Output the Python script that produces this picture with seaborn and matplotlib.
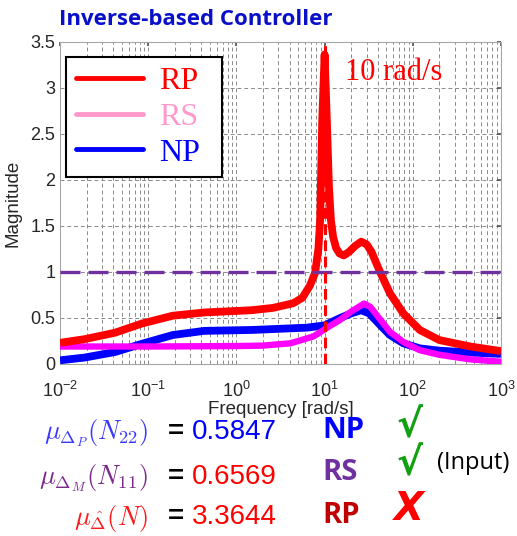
import numpy as np
import pandas as pd
import matplotlib
matplotlib.use("Agg")
import matplotlib.pyplot as plt
from matplotlib.lines import Line2D
from matplotlib.ticker import LogLocator, FixedLocator, NullFormatter
import seaborn as sns

# ---- structured singular value curves vs frequency ----
rp_freq = [0.01, 0.019, 0.042, 0.085, 0.19, 0.43, 1.5, 2.6, 4.4, 5.6, 6.8, 7.8, 8.5,
           8.9, 9.4, 10.0, 10.6, 11.2, 11.8, 12.5, 13.5, 14.8, 16.5, 19.0, 22.0, 26.0,
           30.0, 34.0, 38.0, 43.0, 55.0, 78.0, 120.0, 200.0, 450.0, 1000.0]
rp_mag = [0.23, 0.27, 0.34, 0.44, 0.525, 0.56, 0.585, 0.61, 0.66, 0.72, 0.85, 0.99, 1.25,
          1.56, 2.65, 3.3644, 2.65, 1.93, 1.56, 1.38, 1.26, 1.2, 1.18, 1.22, 1.28, 1.33,
          1.3, 1.22, 1.11, 0.99, 0.77, 0.55, 0.37, 0.26, 0.19, 0.14]

np_freq = [0.01, 0.019, 0.042, 0.085, 0.19, 0.43, 1.5, 6.3, 10.0, 15.0, 20.0, 26.0,
           32.0, 43.0, 55.0, 78.0, 120.0, 200.0, 450.0, 1000.0]
np_mag = [0.04, 0.07, 0.13, 0.22, 0.315, 0.36, 0.37, 0.395, 0.42, 0.50, 0.55, 0.5847,
          0.55, 0.42, 0.315, 0.225, 0.17, 0.145, 0.125, 0.11]

rs_freq = [0.01, 0.1, 1.0, 2.0, 4.1, 7.5, 10.5, 15.0, 20.0, 28.0, 33.0, 43.0, 55.0,
           78.0, 120.0, 200.0, 450.0, 1000.0]
rs_mag = [0.19, 0.19, 0.195, 0.20, 0.225, 0.30, 0.39, 0.48, 0.57, 0.6569, 0.62, 0.48,
          0.35, 0.24, 0.15, 0.10, 0.05, 0.025]

series_names = ["RP", "RS", "NP"]
series_colors = {"RP": "#ff0000", "RS": "#ff00ff", "NP": "#0000ff"}
legend_colors = {"RP": "#ff0000", "RS": "#ff99cc", "NP": "#0000ff"}

peak_freq = 10.0
unity = 1.0

y_ticks = [0, 0.5, 1, 1.5, 2, 2.5, 3, 3.5]
y_tick_labels = ["0", "0.5", "1", "1.5", "2", "2.5", "3", "3.5"]

mu_labels = [r"$\mu_{\Delta_P}(N_{22})$", r"$\mu_{\Delta_M}(N_{11})$", r"$\mu_{\hat{\Delta}}(N)$"]
mu_label_colors = ["#3a3aff", "#7b2a8c", "#ff1a1a"]
mu_values = ["0.5847", "0.6569", "3.3644"]
mu_value_colors = ["#0000ff", "#ff0000", "#ff0000"]
verdict_names = ["NP", "RS", "RP"]
verdict_colors = ["#0000ff", "#7030a0", "#c00000"]
verdict_marks = ["\u221a", "\u221a", "X"]
verdict_mark_colors = ["#10a010", "#10a010", "#ff0000"]

df = pd.concat([
    pd.DataFrame({"freq": np_freq, "mag": np_mag, "case": "NP"}),
    pd.DataFrame({"freq": rs_freq, "mag": rs_mag, "case": "RS"}),
    pd.DataFrame({"freq": rp_freq, "mag": rp_mag, "case": "RP"}),
], ignore_index=True)

sns.set_theme(style="white")
plt.rcParams["font.family"] = ["Liberation Sans", "DejaVu Sans"]
plt.rcParams["mathtext.fontset"] = "cm"

W, H = 517, 536
fig = plt.figure(figsize=(W / 100, H / 100), dpi=100)
ax = fig.add_axes([60 / W, 1 - 364 / H, 441 / W, 322 / H])

widths = {"NP": 5.6, "RS": 4.6, "RP": 5.6}
for name in ["NP", "RS", "RP"]:
    sns.lineplot(data=df[df["case"] == name], x="freq", y="mag", color=series_colors[name],
                 lw=widths[name], ax=ax, sort=False, estimator=None, legend=False,
                 solid_capstyle="butt", zorder=3)

ax.axhline(unity, color="#7030a0", lw=2.4, dashes=(6, 2.4), zorder=4)
ax.axvline(peak_freq, color="#ff0000", lw=2.2, dashes=(3.5, 1.8), zorder=4)

ax.set_xscale("log")
ax.set_xlim(1e-2, 1e3)
ax.set_ylim(0, 3.5)
ax.yaxis.set_major_locator(FixedLocator(y_ticks))
ax.set_yticklabels(y_tick_labels)
ax.xaxis.set_major_locator(LogLocator(base=10, numticks=10))
ax.xaxis.set_minor_locator(LogLocator(base=10, subs=np.arange(2, 10), numticks=100))
ax.xaxis.set_minor_formatter(NullFormatter())

ax.grid(which="major", color="#8a8a8a", lw=0.7, dashes=(4, 3))
ax.grid(which="minor", axis="x", color="#8a8a8a", lw=0.7, dashes=(4, 3))
ax.set_axisbelow(True)
for s in ax.spines.values():
    s.set_color("#a6a6a6")
    s.set_linewidth(0.8)
ax.tick_params(axis="both", which="both", direction="in", length=3, color="#555555",
               labelcolor="#262626", top=True, right=True)
ax.tick_params(axis="y", labelsize=13)
ax.tick_params(axis="x", labelsize=13, pad=12)
ax.tick_params(axis="x", which="minor", length=0)

ax.set_xlabel("Frequency [rad/s]", fontsize=13.5, color="#262626", labelpad=0)
ax.set_ylabel("Magnitude", fontsize=13.5, color="#262626", labelpad=6)

handles = [Line2D([0], [0], color=legend_colors[n], lw=3.5) for n in series_names]
leg = ax.legend(handles, series_names, loc="upper left",
                bbox_to_anchor=(6 / 441, 0.5, 156 / 441, 0.953 - 0.5), mode="expand",
                borderaxespad=0, frameon=True, fancybox=False, framealpha=1,
                edgecolor="black", handlelength=2.1, handletextpad=0.5,
                labelspacing=0.2, borderpad=0.3,
                prop={"family": "Liberation Serif", "size": 23})
leg.get_frame().set_linewidth(1.5)
for t, n in zip(leg.get_texts(), series_names):
    t.set_color(legend_colors[n])

ax.text(peak_freq * 1.7, 3.17, "10 rad/s", color="#ff0000", fontsize=22,
        family="Liberation Serif", ha="left", va="center")

fig.text(59 / W, 1 - 19.5 / H, "Inverse-based Controller", color="#0a10c8",
         fontsize=16, fontweight="bold", family="Open Sans", ha="left", va="center")

rows_y = [432, 477, 517]
name_base = [438, 480, 523]
mark_base = [437, 475, 520]
for i, y in enumerate(rows_y):
    fig.text(148 / W, 1 - (y + 1) / H, mu_labels[i], color=mu_label_colors[i], fontsize=19,
             ha="right", va="center")
    fig.text(176 / W, 1 - y / H, "=", color="black", fontsize=20, fontweight="bold",
             ha="center", va="center")
    fig.text(192 / W, 1 - y / H, mu_values[i], color=mu_value_colors[i], fontsize=20,
             ha="left", va="center")
    fig.text(322 / W, 1 - name_base[i] / H, verdict_names[i], color=verdict_colors[i],
             fontsize=21, fontweight="bold", family="Open Sans", ha="left", va="baseline")
    fig.text(409 / W, 1 - mark_base[i] / H, verdict_marks[i], color=verdict_mark_colors[i],
             fontsize=28, fontweight="bold", style="italic", family="DejaVu Sans",
             ha="center", va="baseline")

fig.text(437 / W, 1 - 463 / H, "(Input)", color="black", fontsize=17, family="Open Sans",
         ha="left", va="center")

fig.savefig("out.png", dpi=100)
